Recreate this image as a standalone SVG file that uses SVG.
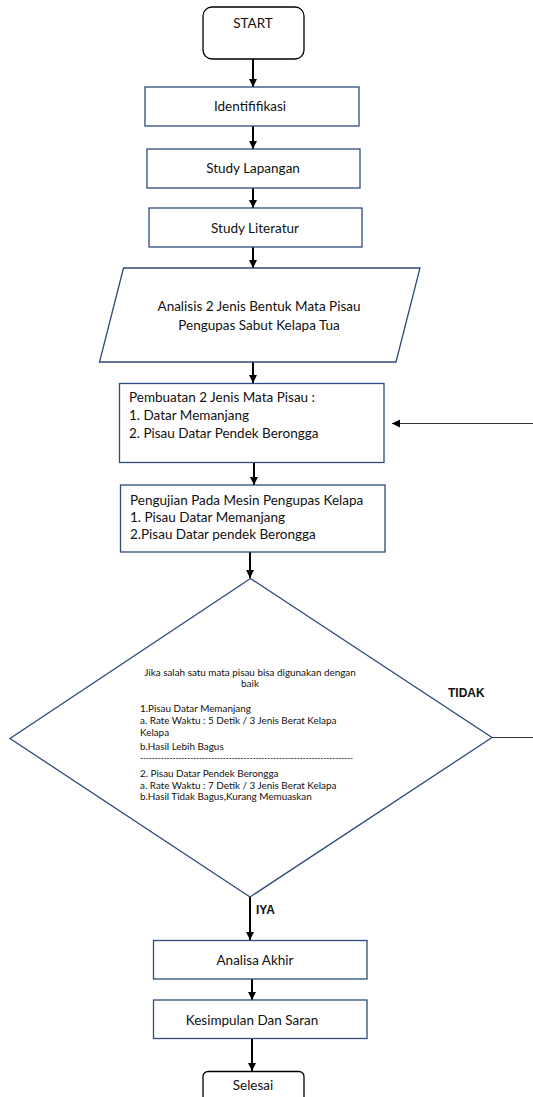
<svg xmlns="http://www.w3.org/2000/svg" width="533" height="1097" viewBox="0 0 533 1097">
<defs>
<marker id="ah" markerWidth="8" markerHeight="8" refX="8" refY="4" orient="auto" markerUnits="userSpaceOnUse">
<path d="M0,0 L8,4 L0,8 Z" fill="#000"/>
</marker>
<style>
.box{fill:#fff;stroke:#2F4A7C;stroke-width:1.3}
.term{fill:#fff;stroke:#000;stroke-width:1.3}
.t{font-family:Lato,"Liberation Sans",sans-serif;font-size:13.5px;fill:#111}
.tc{text-anchor:middle}
.s{font-family:Lato,"Liberation Sans",sans-serif;font-size:9.9px;fill:#111}
.lbl{font-family:"Liberation Sans",Arial,sans-serif;font-size:12px;font-weight:bold;fill:#111}
.arr{stroke:#000;stroke-width:2;fill:none;marker-end:url(#ah)}
.fb{stroke:#333;stroke-width:1.2;fill:none}
</style>
</defs>
<rect width="533" height="1097" fill="#fff"/>
<g id="connectors">
<line class="arr" x1="253" y1="59" x2="253" y2="87"/>
<line class="arr" x1="253" y1="126" x2="253" y2="149"/>
<line class="arr" x1="253" y1="188" x2="253" y2="208"/>
<line class="arr" x1="253" y1="247" x2="253" y2="268"/>
<line class="arr" x1="253" y1="362" x2="253" y2="383"/>
<line class="arr" x1="254" y1="462" x2="254" y2="485"/>
<line class="arr" x1="250" y1="552" x2="250" y2="578"/>
<line class="arr" x1="250" y1="897" x2="250" y2="940"/>
<line class="arr" x1="252" y1="979" x2="252" y2="1000"/>
<line class="arr" x1="252" y1="1039" x2="252" y2="1071"/>
<line class="fb" x1="533" y1="423.5" x2="392" y2="423.5" marker-end="url(#ah)"/>
<line class="fb" x1="492" y1="737.5" x2="533" y2="737.5"/>
<text class="lbl" x="448" y="697">TIDAK</text>
<text class="lbl" x="256" y="913.5">IYA</text>
</g>
<g id="start">
<rect class="term" x="203" y="7" width="101" height="52" rx="9"/>
<text class="t tc" x="253" y="28">START</text>
</g>
<g id="identifikasi">
<rect class="box" x="145" y="87" width="214" height="39"/>
<text class="t tc" x="250" y="111">Identififikasi</text>
</g>
<g id="study-lapangan">
<rect class="box" x="147" y="149" width="213" height="39"/>
<text class="t tc" x="253" y="173">Study Lapangan</text>
</g>
<g id="study-literatur">
<rect class="box" x="149" y="208" width="213" height="39"/>
<text class="t tc" x="255" y="233">Study Literatur</text>
</g>
<g id="analisis">
<polygon class="box" points="123.5,268 420,268 396,362 99.5,362"/>
<text class="t tc" x="259" y="311">Analisis 2 Jenis Bentuk Mata Pisau</text>
<text class="t tc" x="259" y="329.5">Pengupas Sabut Kelapa Tua</text>
</g>
<g id="pembuatan">
<rect class="box" x="119.5" y="383.5" width="264.5" height="79"/>
<text class="t" x="129" y="402">Pembuatan 2 Jenis Mata Pisau :</text>
<text class="t" x="129" y="420">1. Datar  Memanjang</text>
<text class="t" x="129" y="438">2. Pisau Datar  Pendek Berongga</text>
</g>
<g id="pengujian">
<rect class="box" x="120.5" y="485" width="264.5" height="67"/>
<text class="t" x="130" y="504.5">Pengujian Pada Mesin Pengupas Kelapa</text>
<text class="t" x="130" y="522">1. Pisau Datar  Memanjang</text>
<text class="t" x="130" y="539">2.Pisau Datar pendek Berongga</text>
</g>
<g id="keputusan">
<polygon class="box" points="250.5,578.5 492,737.5 250,897 10,738.5"/>
<text class="s tc" x="250" y="675.5">Jika salah satu mata pisau bisa digunakan dengan</text>
<text class="s tc" x="250" y="687">baik</text>
<text class="s" x="140" y="711.5">1.Pisau Datar Memanjang</text>
<text class="s" x="140" y="723.5">a. Rate Waktu : 5 Detik / 3 Jenis Berat Kelapa</text>
<text class="s" x="140" y="736">Kelapa</text>
<text class="s" x="140" y="749.5">b.Hasil Lebih Bagus</text>
<text class="s" x="140" y="761" textLength="213" lengthAdjust="spacingAndGlyphs">------------------------------------------------------------------------</text>
<text class="s" x="140" y="776.5">2. Pisau Datar Pendek Berongga</text>
<text class="s" x="140" y="788.5">a. Rate Waktu : 7 Detik / 3 Jenis Berat Kelapa</text>
<text class="s" x="140" y="800">b.Hasil Tidak Bagus,Kurang Memuaskan</text>
</g>
<g id="analisa-akhir">
<rect class="box" x="153.5" y="940.5" width="213.5" height="38.5"/>
<text class="t tc" x="255" y="964.5">Analisa Akhir</text>
</g>
<g id="kesimpulan">
<rect class="box" x="153.5" y="1000" width="213.5" height="38.5"/>
<text class="t tc" x="252" y="1024.5">Kesimpulan Dan Saran</text>
</g>
<g id="selesai">
<rect class="term" x="203" y="1071.5" width="101" height="40" rx="5"/>
<text class="t tc" x="253" y="1089.5">Selesai</text>
</g>
</svg>
